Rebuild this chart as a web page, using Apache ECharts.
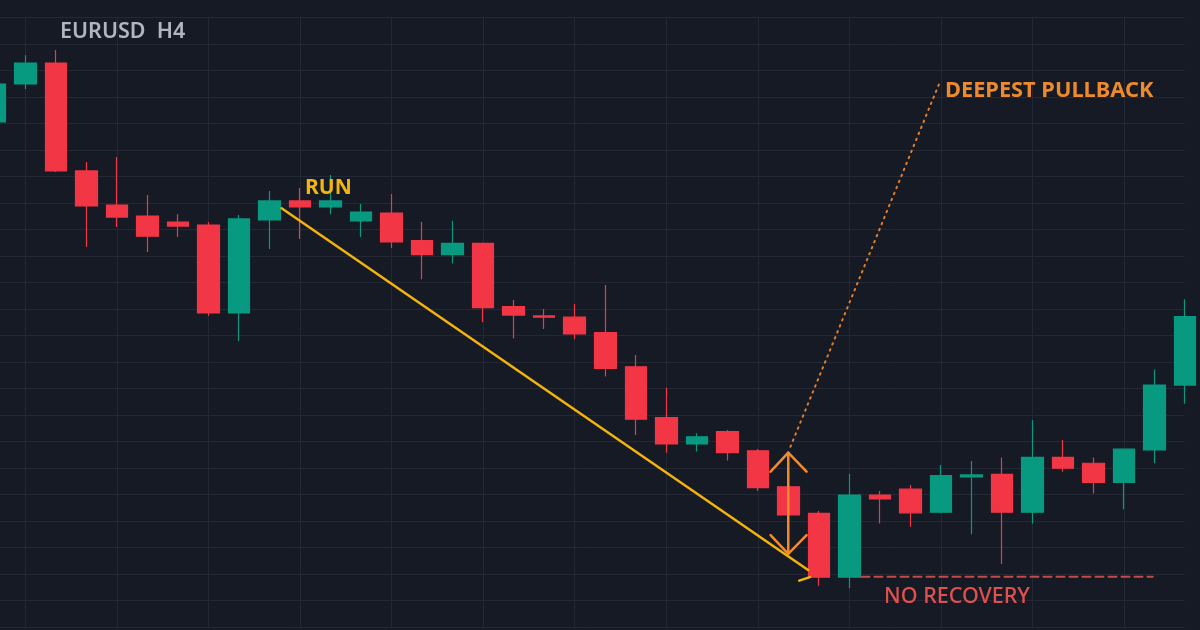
<!DOCTYPE html>
<html>
<head>
<meta charset="utf-8">
<script src="https://cdn.jsdelivr.net/npm/echarts@6/dist/echarts.min.js"></script>
<style>
html,body{margin:0;padding:0;background:#161a25;}
#chart{width:1200px;height:630px;}
</style>
</head>
<body>
<div id="chart"></div>
<script>
// ---- data (EURUSD H4 candles) ----
const categories = ['c0','c1','c2','c3','c4','c5','c6','c7','c8','c9','c10','c11','c12','c13','c14','c15','c16','c17','c18','c19',
  'c20','c21','c22','c23','c24','c25','c26','c27','c28','c29','c30','c31','c32','c33','c34','c35','c36','c37','c38','c39'];
const openValues  = [1.08906,1.09049,1.09128,1.08721,1.08592,1.08551,1.08528,1.08517,1.08185,1.08536,1.08608,1.08585,1.08532,1.08562,1.08458,1.08405,1.08448,1.08209,1.08174,1.08169,
  1.08111,1.07982,1.07790,1.07691,1.07737,1.07665,1.07529,1.07429,1.07188,1.07498,1.07520,1.07433,1.07566,1.07576,1.07433,1.07640,1.07618,1.07546,1.07668,1.07913];
const closeValues = [1.09049,1.09128,1.08721,1.08589,1.08547,1.08475,1.08513,1.08185,1.08540,1.08608,1.08585,1.08608,1.08566,1.08453,1.08405,1.08448,1.08205,1.08177,1.08169,1.08106,
  1.07976,1.07784,1.07691,1.07718,1.07658,1.07526,1.07423,1.07188,1.07498,1.07483,1.07431,1.07571,1.07574,1.07433,1.07640,1.07599,1.07546,1.07671,1.07913,1.08171];
const lowValues   = [1.08894,1.09030,1.08717,1.08434,1.08509,1.08415,1.08472,1.08174,1.08079,1.08426,1.08464,1.08558,1.08472,1.08430,1.08312,1.08372,1.08150,1.08089,1.08125,1.08086,
  1.07945,1.07725,1.07658,1.07662,1.07628,1.07513,1.07419,1.07156,1.07146,1.07391,1.07378,1.07429,1.07350,1.07238,1.07391,1.07586,1.07504,1.07444,1.07618,1.07842];
const highValues  = [1.09064,1.09158,1.09177,1.08755,1.08774,1.08630,1.08558,1.08528,1.08555,1.08645,1.08657,1.08706,1.08596,1.08634,1.08529,1.08533,1.08449,1.08234,1.08200,1.08219,
  1.08291,1.08026,1.07903,1.07731,1.07743,1.07672,1.07532,1.07438,1.07577,1.07513,1.07536,1.07611,1.07626,1.07640,1.07781,1.07706,1.07640,1.07672,1.07972,1.08237];

// price axis
const priceMin = 1.0700, priceMax = 1.0930, priceStep = 0.001;

// annotations, in [candle position, price]
const runLine = [[8.39, 1.08580], [25.65, 1.07215]];
const runTick = [[25.36, 1.07175], [25.71, 1.07188]];
const arrowShaft = [[25.0, 1.07658], [25.0, 1.07276]];
const arrowHeadTop = [[24.42, 1.07586], [25.0, 1.07658], [25.6, 1.07586]];
const arrowHeadBottom = [[24.42, 1.07347], [25.0, 1.07276], [25.6, 1.07347]];
const pullbackGuide = [[25.07, 1.07680], [29.94, 1.09048]];
const noRecoveryLine = [[27.4, 1.07190], [36.95, 1.07190]];

const candleData = categories.map((c, i) => [openValues[i], closeValues[i], lowValues[i], highValues[i]]);

const chart = echarts.init(document.getElementById('chart'), null, {renderer: 'canvas'});

function seg(coords, color, width, type, z) {
  return {
    type: 'lines', coordinateSystem: 'cartesian2d', xAxisIndex: 1, yAxisIndex: 0,
    polyline: true, silent: true, z: z || 5,
    lineStyle: {color: color, width: width, type: type || 'solid', opacity: 1, cap: 'round', join: 'round'},
    data: [{coords: coords}]
  };
}

chart.setOption({
  backgroundColor: '#161a25',
  animation: false,
  grid: {left: -4.8, right: 15.2, top: 17.5, bottom: 3, containLabel: false, outerBoundsMode: 'none'},
  xAxis: [{
    type: 'category', data: categories, boundaryGap: false,
    axisLine: {show: false}, axisTick: {show: false}, axisLabel: {show: false},
    splitLine: {show: true, interval: function (idx) { return (idx - 1) % 3 === 0; },
      lineStyle: {color: '#232834', width: 1}}
  }, {
    type: 'value', min: -1, max: 38, show: false, splitLine: {show: false}
  }],
  yAxis: [{
    type: 'value', min: priceMin, max: priceMax, interval: priceStep, scale: true,
    axisLine: {show: false}, axisTick: {show: false}, axisLabel: {show: false},
    splitLine: {show: true, lineStyle: {color: '#232834', width: 1}}
  }],
  series: [
    {
      type: 'candlestick', data: candleData, barWidth: 22, clip: false, z: 3,
      itemStyle: {color: '#089981', color0: '#f23645', borderColor: '#089981', borderColor0: '#f23645', borderWidth: 1.2}
    },
    seg(runLine, '#f2b30c', 2.5),
    seg(runTick, '#f2b30c', 2.5),
    seg(pullbackGuide, '#e07e30', 2, [1.5, 5]),
    seg(arrowShaft, '#f28a2e', 2.5),
    seg(arrowHeadTop, '#f28a2e', 2.5),
    seg(arrowHeadBottom, '#f28a2e', 2.5),
    seg(noRecoveryLine, '#c44a4a', 2, [8, 5])
  ],
  graphic: [
    {type: 'text', left: 60, top: 21, z: 10, style: {text: 'EURUSD  H4', fill: '#b2b5be', font: '600 21.5px "Noto Sans"'}},
    {type: 'text', left: 305, top: 178, z: 10, style: {text: 'RUN', fill: '#f2b50f', font: 'bold 21px "Noto Sans"'}},
    {type: 'text', left: 945, top: 80, z: 10, style: {text: 'DEEPEST PULLBACK', fill: '#ee8a2e', font: 'bold 21.8px "Noto Sans"'}},
    {type: 'text', left: 884, top: 586, z: 10, style: {text: 'NO RECOVERY', fill: '#e0504e', font: '500 21.5px "Noto Sans"'}}
  ]
});
</script>
</body>
</html>
